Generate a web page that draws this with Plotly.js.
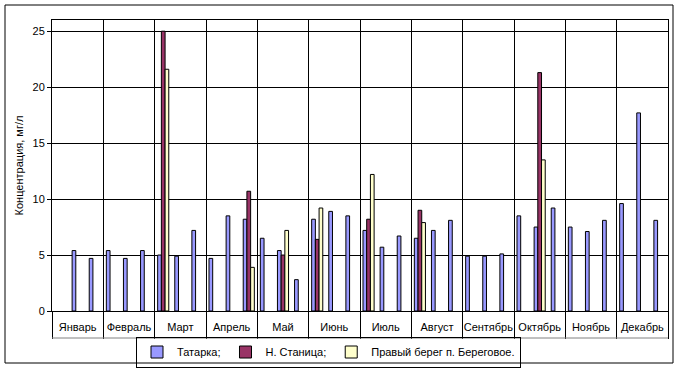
<!DOCTYPE html>
<html>
<head>
<meta charset="utf-8">
<script src="https://cdn.plot.ly/plotly-3.0.1.min.js"></script>
<style>html,body{margin:0;padding:0;background:#fff;}#chart{width:681px;height:370px;}</style>
</head>
<body>
<div id="chart"></div>
<script>
// Months (categories), each month has 3 sampling slots
const months = ['Январь','Февраль','Март','Апрель','Май','Июнь','Июль','Август','Сентябрь','Октябрь','Ноябрь','Декабрь'];
const slotsPerMonth = 3;

// Series values, one per slot (12 months x 3 slots)
const tatarka = [
  null, 5.4, 4.7,
  5.4, 4.7, 5.4,
  5.0, 4.9, 7.2,
  4.7, 8.5, 8.2,
  6.5, 5.4, 2.8,
  8.2, 8.9, 8.5,
  7.2, 5.7, 6.7,
  6.5, 7.2, 8.1,
  4.9, 4.9, 5.1,
  8.5, 7.5, 9.2,
  7.5, 7.1, 8.1,
  9.6, 17.7, 8.1
];
const nStanica = [
  null, null, null,
  null, null, null,
  25.0, null, null,
  null, null, 10.7,
  null, 5.0, null,
  6.4, null, null,
  8.2, null, null,
  9.0, null, null,
  null, null, null,
  null, 21.3, null,
  null, null, null,
  null, null, null
];
const beregovoe = [
  null, null, null,
  null, null, null,
  21.6, null, null,
  null, null, 3.9,
  null, 7.2, null,
  9.2, null, null,
  12.2, null, null,
  7.9, null, null,
  null, null, null,
  null, 13.5, null,
  null, null, null,
  null, null, null
];
const seriesNames = ['Татарка;', 'Н. Станица;', 'Правый берег п. Береговое.'];
const yTicks = [0, 5, 10, 15, 20, 25];

const nSlots = months.length * slotsPerMonth;
const xs = Array.from({length: nSlots}, (_, i) => i);
const monthCenters = months.map((m, i) => i * slotsPerMonth + (slotsPerMonth - 1) / 2);
const monthBounds = Array.from({length: months.length + 1}, (_, i) => i * slotsPerMonth - 0.5);

const font = {family: '"Liberation Sans", Arial, sans-serif', size: 11, color: '#000'};
const mk = (name, vals, color) => ({
  type: 'bar', name: name, x: xs, y: vals,
  marker: {color: color, line: {color: '#000', width: 1}},
  hoverinfo: 'skip'
});

const data = [
  mk(seriesNames[0], tatarka, '#9999FF'),
  mk(seriesNames[1], nStanica, '#993366'),
  mk(seriesNames[2], beregovoe, '#FFFFCC')
];

// plot area: x 52..668, y 20..311
const H = 291, W = 616, CW = 681, CH = 370;
const layout = {
  width: CW, height: CH,
  margin: {l: 52, r: 13, t: 20, b: 59, pad: 0, autoexpand: false},
  paper_bgcolor: '#fff', plot_bgcolor: '#fff',
  font: font,
  barmode: 'group', bargap: 0.35, bargroupgap: 0,
  showlegend: true,
  legend: {
    orientation: 'h',
    xref: 'container', yref: 'container',
    x: 328.5 / CW, xanchor: 'center',
    y: 1 - 352 / CH, yanchor: 'middle',
    bordercolor: '#000', borderwidth: 1, bgcolor: 'rgba(255,255,255,0)',
    font: font, itemwidth: 30, tracegroupgap: 0,
    traceorder: 'normal'
  },
  xaxis: {
    range: [-0.5, nSlots - 0.5], fixedrange: true, automargin: false,
    tickmode: 'array', tickvals: monthCenters, ticktext: months,
    ticks: 'outside', ticklen: 6, tickcolor: 'rgba(0,0,0,0)',
    showgrid: false, zeroline: false,
    showline: true, linecolor: '#000', linewidth: 1, mirror: true,
    tickfont: font,
    minor: {
      tickmode: 'array', tickvals: monthBounds,
      ticks: 'outside', ticklen: 27, tickcolor: '#000', tickwidth: 1,
      showgrid: true, gridcolor: '#000', gridwidth: 1
    }
  },
  yaxis: {
    range: [0, 26], fixedrange: true, automargin: false,
    tickmode: 'array', tickvals: yTicks,
    ticks: 'outside', ticklen: 4, tickcolor: '#000',
    showgrid: true, gridcolor: '#000', gridwidth: 1,
    zeroline: false,
    showline: true, linecolor: '#000', linewidth: 1, mirror: true,
    tickfont: font,
    title: {text: 'Концентрация, мг/л', font: font, standoff: 6}
  },
  shapes: [
    {type: 'line', xref: 'paper', yref: 'paper', x0: 0, x1: 1,
     y0: -(338 - 311) / H, y1: -(338 - 311) / H,
     line: {color: '#808080', width: 1}},
    {type: 'rect', xref: 'paper', yref: 'paper',
     x0: (5 - 52) / W, x1: (673 - 52) / W,
     y0: -(363 - 311) / H, y1: 1 + (20 - 5) / H,
     line: {color: '#000', width: 1}, fillcolor: 'rgba(0,0,0,0)'}
  ]
};

Plotly.newPlot('chart', data, layout, {displayModeBar: false, staticPlot: true});
</script>
</body>
</html>
